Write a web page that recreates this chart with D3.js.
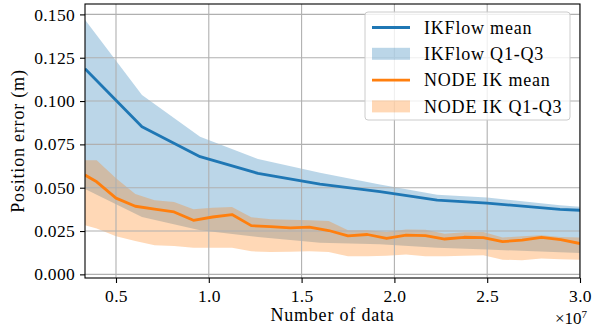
<!DOCTYPE html>
<html>
<head>
<meta charset="utf-8">
<script src="https://cdn.jsdelivr.net/npm/d3@7"></script>
<style>
  body { margin: 0; background: #fff; }
  svg text { font-family: "Liberation Serif", "DejaVu Serif", serif; fill: #000; }
  .word { font-size: 18px; letter-spacing: 0.8px; }
</style>
</head>
<body>
<div id="chart"></div>
<script>
// IKFlow samples (Number of data)
var ikflowX = [3330000, 6400000, 9530000, 12650000, 15990000, 19220000, 22300000, 24990000, 28920000, 30000000];
var ikflowMean = [0.1186, 0.0852, 0.0679, 0.0583, 0.0521, 0.0477, 0.0428, 0.0411, 0.0375, 0.0370];
var ikflowQ3 = [0.1469, 0.1035, 0.0794, 0.0665, 0.0587, 0.0519, 0.0460, 0.0443, 0.0399, 0.0390];
var ikflowQ1 = [0.0492, 0.0331, 0.0255, 0.0216, 0.0183, 0.0174, 0.0153, 0.0143, 0.0127, 0.0123];

// NODE IK samples
var nodeX = [3330000, 3960000, 5000000, 6040000, 7080000, 8130000, 9170000, 10210000, 11250000,
  12290000, 13330000, 14380000, 15420000, 16460000, 17500000, 18540000, 19580000, 20630000,
  21670000, 22710000, 23750000, 24790000, 25830000, 26880000, 27920000, 28960000, 30000000];
var nodeMean = [0.0573, 0.0534, 0.0440, 0.0393, 0.0376, 0.0360, 0.0312, 0.0331, 0.0345,
  0.0281, 0.0276, 0.0268, 0.0272, 0.0253, 0.0222, 0.0230, 0.0207, 0.0226,
  0.0224, 0.0204, 0.0214, 0.0212, 0.0189, 0.0197, 0.0214, 0.0201, 0.0178];
var nodeQ3 = [0.0659, 0.0659, 0.0555, 0.0463, 0.0428, 0.0418, 0.0376, 0.0384, 0.0389,
  0.0330, 0.0318, 0.0315, 0.0312, 0.0308, 0.0255, 0.0255, 0.0245, 0.0259,
  0.0257, 0.0235, 0.0243, 0.0245, 0.0212, 0.0220, 0.0226, 0.0216, 0.0212];
var nodeQ1 = [0.0283, 0.0264, 0.0220, 0.0193, 0.0168, 0.0164, 0.0154, 0.0154, 0.0154,
  0.0133, 0.0129, 0.0130, 0.0133, 0.0129, 0.0104, 0.0104, 0.0108, 0.0114,
  0.0104, 0.0104, 0.0107, 0.0110, 0.0085, 0.0081, 0.0091, 0.0087, 0.0085];

var xTicks = [5000000, 10000000, 15000000, 20000000, 25000000, 30000000];
var yTicks = [0, 0.025, 0.05, 0.075, 0.1, 0.125, 0.15];
var legendLabels = ["IKFlow mean", "IKFlow Q1-Q3", "NODE IK mean", "NODE IK Q1-Q3"];

var BLUE = "#1f77b4", ORANGE = "#ff7f0e";
var WIDTH = 593, HEIGHT = 329;
var MARGINS = { top: 4, right: 13, bottom: 51, left: 85 };

var svg = d3.select("#chart").append("svg")
  .attr("width", WIDTH).attr("height", HEIGHT);

var xScale = d3.scaleLinear()
  .domain([3330000, 30000000])
  .range([MARGINS.left, WIDTH - MARGINS.right]);
var yScale = d3.scaleLinear()
  .domain([-0.0021, 0.156])
  .range([HEIGHT - MARGINS.bottom, MARGINS.top]);

function zip(xs, a, b) {
  return xs.map(function(x, i) { return { x: x, lo: a[i], hi: b ? b[i] : a[i] }; });
}

var area = d3.area()
  .x(function(d) { return xScale(d.x); })
  .y0(function(d) { return yScale(d.lo); })
  .y1(function(d) { return yScale(d.hi); });
var line = d3.line()
  .x(function(d) { return xScale(d.x); })
  .y(function(d) { return yScale(d.lo); });

svg.append("defs").append("clipPath").attr("id", "clip").append("rect")
  .attr("x", MARGINS.left).attr("y", MARGINS.top)
  .attr("width", WIDTH - MARGINS.left - MARGINS.right)
  .attr("height", HEIGHT - MARGINS.top - MARGINS.bottom);

var body = svg.append("g").attr("clip-path", "url(#clip)");

// fills first
body.append("path").attr("d", area(zip(ikflowX, ikflowQ1, ikflowQ3)))
  .attr("fill", BLUE).attr("fill-opacity", 0.3);
body.append("path").attr("d", area(zip(nodeX, nodeQ1, nodeQ3)))
  .attr("fill", ORANGE).attr("fill-opacity", 0.3);

// grid
var grid = body.append("g").attr("class", "grid");
grid.selectAll(".vg").data(xTicks).enter().append("line")
  .attr("x1", function(d) { return xScale(d); }).attr("x2", function(d) { return xScale(d); })
  .attr("y1", MARGINS.top).attr("y2", HEIGHT - MARGINS.bottom)
  .attr("stroke", "#b0b0b0").attr("stroke-width", 1.1);
grid.selectAll(".hg").data(yTicks).enter().append("line")
  .attr("y1", function(d) { return yScale(d); }).attr("y2", function(d) { return yScale(d); })
  .attr("x1", MARGINS.left).attr("x2", WIDTH - MARGINS.right)
  .attr("stroke", "#b0b0b0").attr("stroke-width", 1.1);

// lines
body.append("path").attr("d", line(zip(ikflowX, ikflowMean)))
  .attr("fill", "none").attr("stroke", BLUE).attr("stroke-width", 2.8)
  .attr("stroke-linejoin", "round");
body.append("path").attr("d", line(zip(nodeX, nodeMean)))
  .attr("fill", "none").attr("stroke", ORANGE).attr("stroke-width", 2.8)
  .attr("stroke-linejoin", "round");

// axes
var xAxis = d3.axisBottom(xScale).tickValues(xTicks).tickSize(5).tickPadding(5)
  .tickFormat(function(d) { return (d / 1e7).toFixed(1); });
var yAxis = d3.axisLeft(yScale).tickValues(yTicks).tickSize(5).tickPadding(5)
  .tickFormat(d3.format(".3f"));

var gX = svg.append("g").attr("transform", "translate(0," + (HEIGHT - MARGINS.bottom) + ")").call(xAxis);
var gY = svg.append("g").attr("transform", "translate(" + MARGINS.left + ",0)").call(yAxis);
[gX, gY].forEach(function(g) {
  g.select(".domain").remove();
  g.selectAll(".tick line").attr("stroke", "#000").attr("stroke-width", 1.1);
  g.selectAll("text").style("font-size", "17.5px").style("letter-spacing", "0.3px").attr("fill", "#000");
});
gX.selectAll("text").attr("dy", "0.8em");

// frame
svg.append("rect")
  .attr("x", MARGINS.left).attr("y", MARGINS.top)
  .attr("width", WIDTH - MARGINS.left - MARGINS.right)
  .attr("height", HEIGHT - MARGINS.top - MARGINS.bottom)
  .attr("fill", "none").attr("stroke", "#000").attr("stroke-width", 1.1);

// axis labels
svg.append("text").attr("class", "word")
  .attr("x", (MARGINS.left + WIDTH - MARGINS.right) / 2).attr("y", 321)
  .attr("text-anchor", "middle")
  .text("Number of data");
svg.append("text").attr("class", "word")
  .attr("transform", "translate(24," + ((MARGINS.top + HEIGHT - MARGINS.bottom) / 2) + ") rotate(-90)")
  .attr("text-anchor", "middle")
  .text("Position error (m)");
var mult = svg.append("text")
  .attr("x", 587).attr("y", 324)
  .attr("text-anchor", "end").style("font-size", "17px");
mult.append("tspan").text("\u00d710");
mult.append("tspan").attr("dy", -6).style("font-size", "11px").text("7");

// legend
var legend = svg.append("g").attr("class", "legend");
legend.append("rect")
  .attr("x", 365).attr("y", 12).attr("width", 205).attr("height", 108)
  .attr("rx", 3).attr("fill", "#fff").attr("fill-opacity", 0.8)
  .attr("stroke", "#cccccc").attr("stroke-width", 1);

var kinds = [
  { type: "line", color: BLUE },
  { type: "fill", color: BLUE },
  { type: "line", color: ORANGE },
  { type: "fill", color: ORANGE }
];
legendLabels.forEach(function(label, i) {
  var cy = 27.5 + i * 26.3;
  var k = kinds[i];
  if (k.type == "line")
    legend.append("line").attr("x1", 372).attr("x2", 410).attr("y1", cy).attr("y2", cy)
      .attr("stroke", k.color).attr("stroke-width", 2.8);
  else
    legend.append("rect").attr("x", 372).attr("y", cy - 6).attr("width", 38).attr("height", 12)
      .attr("fill", k.color).attr("fill-opacity", 0.3);
  legend.append("text").attr("class", "word").attr("x", 424).attr("y", cy).attr("dy", "0.35em")
    .text(label);
});
</script>
</body>
</html>
